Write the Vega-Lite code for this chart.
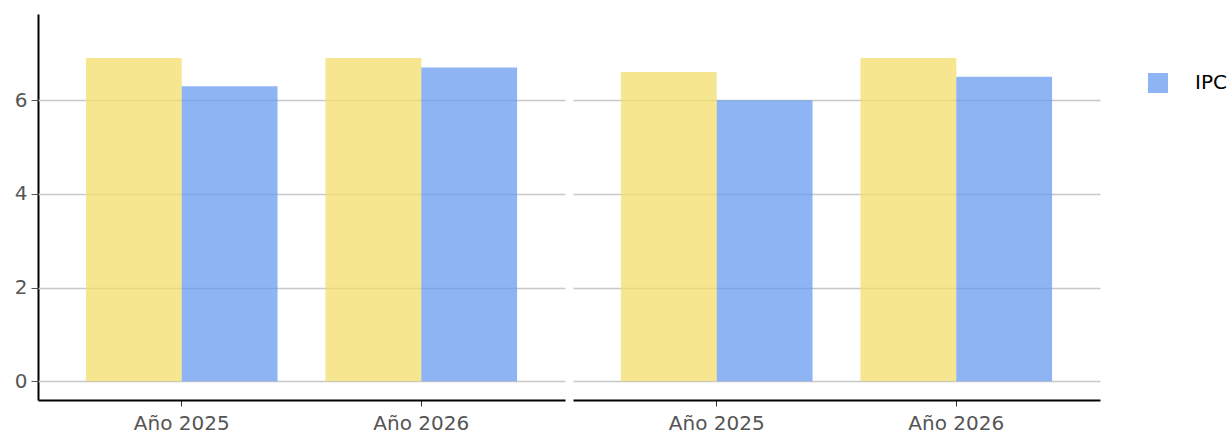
{
  "$schema": "https://vega.github.io/schema/vega-lite/v6.json",
  "padding": {"top": 14, "left": 14, "right": 0, "bottom": 0},
  "data": {"values": [
    {"panel": "A", "anio": "Año 2025", "serie": "Meta", "valor": 6.9},
    {"panel": "A", "anio": "Año 2025", "serie": "IPC", "valor": 6.3},
    {"panel": "A", "anio": "Año 2026", "serie": "Meta", "valor": 6.9},
    {"panel": "A", "anio": "Año 2026", "serie": "IPC", "valor": 6.7},
    {"panel": "B", "anio": "Año 2025", "serie": "Meta", "valor": 6.6},
    {"panel": "B", "anio": "Año 2025", "serie": "IPC", "valor": 6.0},
    {"panel": "B", "anio": "Año 2026", "serie": "Meta", "valor": 6.9},
    {"panel": "B", "anio": "Año 2026", "serie": "IPC", "valor": 6.5}
  ]},
  "facet": {"column": {"field": "panel", "type": "nominal", "header": {"labels": false, "title": null}}},
  "spacing": 8,
  "spec": {
    "width": 527,
    "height": 386,
    "mark": {"type": "bar", "opacity": 0.75},
    "encoding": {
      "x": {"field": "anio", "type": "nominal", "title": null,
        "scale": {"paddingInner": 0.2, "paddingOuter": 0.2},
        "axis": {"labelAngle": 0, "labelFont": "DejaVu Sans", "labelFontSize": 20, "labelColor": "#555555", "labelPadding": 7, "domainColor": "#000000", "domainWidth": 2, "tickColor": "#333333", "tickSize": 6, "grid": false}},
      "xOffset": {"field": "serie", "type": "nominal", "sort": ["Meta", "IPC"]},
      "y": {"field": "valor", "type": "quantitative", "title": null,
        "scale": {"domain": [-0.4, 7.84], "nice": false, "zero": false},
        "axis": {"values": [0, 2, 4, 6], "labelFont": "DejaVu Sans", "labelFontSize": 20, "labelColor": "#555555", "labelPadding": 4, "domainColor": "#000000", "domainWidth": 2, "tickColor": "#555555", "tickSize": 7, "gridColor": "#c8c8c8", "gridWidth": 1.5}},
      "color": {"field": "serie", "type": "nominal", "title": null,
        "scale": {"domain": ["Meta", "IPC"], "range": ["#F2DE6A", "#6A9BF0"]},
        "legend": {"values": ["IPC"], "orient": "none", "legendX": 1109, "legendY": 58, "symbolType": "square", "symbolSize": 400, "symbolOpacity": 0.75, "labelFont": "DejaVu Sans", "labelFontSize": 20, "labelColor": "#000000", "labelOffset": 26, "padding": 0}}
    }
  },
  "config": {"view": {"stroke": null}, "axisY": {"grid": true}}
}
